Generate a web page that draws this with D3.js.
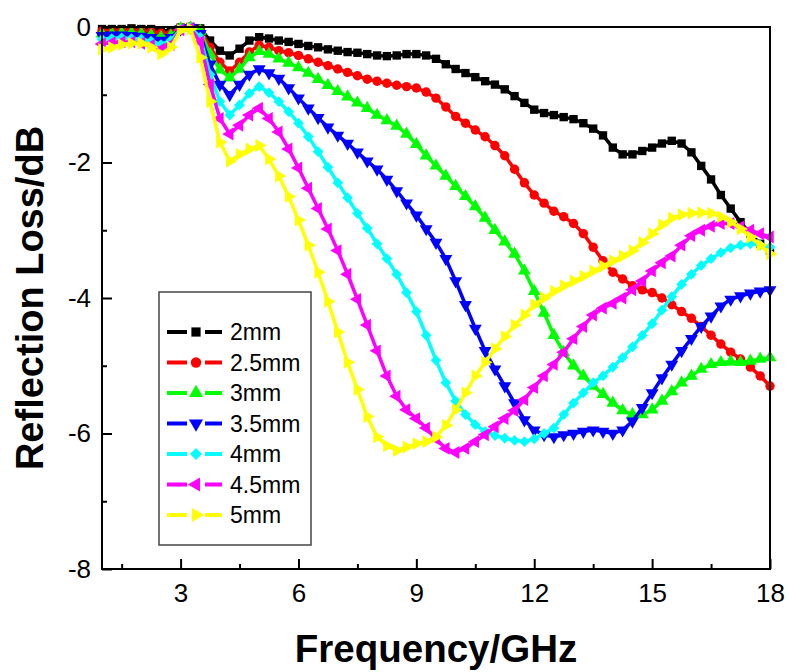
<!DOCTYPE html>
<html>
<head>
<meta charset="utf-8">
<script src="https://cdn.jsdelivr.net/npm/d3@7"></script>
<style>
  body { margin: 0; background: #fff; }
  text { font-family: "Liberation Sans", Arial, sans-serif; }
</style>
</head>
<body>
<div id="chart"></div>
<script>
var freq = [1, 1.25, 1.5, 1.75, 2, 2.25, 2.5, 2.75, 3, 3.25, 3.5, 3.75, 4, 4.25, 4.5, 4.75,
  5, 5.25, 5.5, 5.75, 6, 6.25, 6.5, 6.75, 7, 7.25, 7.5, 7.75, 8, 8.25, 8.5, 8.75,
  9, 9.25, 9.5, 9.75, 10, 10.25, 10.5, 10.75, 11, 11.25, 11.5, 11.75, 12, 12.25, 12.5, 12.75,
  13, 13.25, 13.5, 13.75, 14, 14.25, 14.5, 14.75, 15, 15.25, 15.5, 15.75, 16, 16.25, 16.5, 16.75,
  17, 17.25, 17.5, 17.75, 18]

var rl2 = [-0.03, -0.03, -0.03, -0.02, -0.03, -0.03, -0.05, -0.06, -0.01, 0, -0.02, -0.2, -0.35, -0.42, -0.32, -0.2,
  -0.15, -0.17, -0.2, -0.22, -0.25, -0.28, -0.3, -0.33, -0.35, -0.37, -0.38, -0.4, -0.42, -0.43, -0.42, -0.4,
  -0.4, -0.42, -0.47, -0.55, -0.62, -0.68, -0.74, -0.8, -0.85, -0.92, -1.02, -1.12, -1.22, -1.27, -1.3, -1.33,
  -1.36, -1.42, -1.5, -1.6, -1.78, -1.88, -1.88, -1.83, -1.78, -1.72, -1.68, -1.72, -1.85, -2.05, -2.25, -2.48,
  -2.68, -2.88, -3.05, -3.2, -3.3]

var rl25 = [-0.06, -0.06, -0.05, -0.05, -0.06, -0.07, -0.09, -0.1, -0.01, 0, -0.04, -0.3, -0.52, -0.65, -0.52, -0.37,
  -0.27, -0.3, -0.35, -0.38, -0.42, -0.47, -0.52, -0.57, -0.62, -0.67, -0.72, -0.77, -0.8, -0.83, -0.86, -0.88,
  -0.9, -0.96, -1.05, -1.18, -1.32, -1.42, -1.52, -1.62, -1.75, -1.9, -2.1, -2.3, -2.48, -2.6, -2.72, -2.8,
  -2.9, -3.05, -3.25, -3.45, -3.62, -3.72, -3.82, -3.88, -3.92, -4, -4.1, -4.2, -4.3, -4.42, -4.55, -4.68,
  -4.8, -4.9, -5.02, -5.15, -5.3]

var rl3 = [-0.1, -0.1, -0.09, -0.09, -0.1, -0.12, -0.15, -0.13, -0.02, -0.01, -0.06, -0.4, -0.63, -0.75, -0.62, -0.45,
  -0.36, -0.4, -0.47, -0.53, -0.6, -0.68, -0.77, -0.86, -0.95, -1.03, -1.12, -1.2, -1.3, -1.38, -1.46, -1.58,
  -1.73, -1.9, -2.05, -2.2, -2.35, -2.5, -2.65, -2.82, -3, -3.17, -3.35, -3.6, -3.9, -4.22, -4.55, -4.8,
  -5, -5.15, -5.3, -5.42, -5.55, -5.66, -5.72, -5.72, -5.65, -5.52, -5.38, -5.25, -5.15, -5.05, -4.98, -4.95,
  -4.94, -4.95, -4.93, -4.9, -4.88]

var rl35 = [-0.13, -0.12, -0.12, -0.13, -0.14, -0.16, -0.2, -0.16, -0.03, -0.01, -0.1, -0.55, -0.85, -1, -0.85, -0.7,
  -0.62, -0.68, -0.76, -0.9, -1.05, -1.2, -1.34, -1.48, -1.6, -1.72, -1.85, -1.98, -2.1, -2.25, -2.42, -2.6,
  -2.78, -2.98, -3.18, -3.42, -3.75, -4.1, -4.45, -4.78, -5.05, -5.3, -5.55, -5.8, -5.95, -6.02, -6.05, -6.02,
  -6, -5.97, -5.95, -5.97, -6, -5.95, -5.82, -5.62, -5.4, -5.18, -4.98, -4.78, -4.6, -4.42, -4.27, -4.12,
  -4.02, -3.97, -3.93, -3.9, -3.88]

var rl4 = [-0.18, -0.17, -0.16, -0.17, -0.18, -0.21, -0.26, -0.2, -0.03, -0.01, -0.15, -0.7, -1.1, -1.3, -1.15, -0.98,
  -0.88, -0.97, -1.1, -1.25, -1.42, -1.62, -1.84, -2.07, -2.3, -2.52, -2.75, -2.97, -3.2, -3.42, -3.65, -3.92,
  -4.2, -4.55, -4.92, -5.25, -5.52, -5.72, -5.87, -5.97, -6.03, -6.07, -6.1, -6.12, -6.08, -6, -5.92, -5.72,
  -5.55, -5.4, -5.25, -5.15, -5.02, -4.88, -4.72, -4.55, -4.38, -4.18, -3.98, -3.8, -3.65, -3.52, -3.42, -3.33,
  -3.26, -3.22, -3.2, -3.22, -3.25]

var rl45 = [-0.25, -0.23, -0.22, -0.22, -0.24, -0.27, -0.33, -0.26, -0.04, -0.02, -0.22, -0.85, -1.35, -1.58, -1.45, -1.3,
  -1.2, -1.35, -1.55, -1.8, -2.08, -2.38, -2.68, -2.98, -3.3, -3.65, -4.02, -4.4, -4.78, -5.15, -5.45, -5.65,
  -5.78, -5.92, -6.08, -6.22, -6.28, -6.22, -6.12, -6.02, -5.9, -5.78, -5.66, -5.5, -5.32, -5.15, -4.98, -4.8,
  -4.6, -4.42, -4.25, -4.15, -4.08, -4, -3.88, -3.75, -3.6, -3.48, -3.38, -3.22, -3.08, -3, -2.94, -2.9,
  -2.9, -2.95, -3, -3.05, -3.1]

var rl5 = [-0.33, -0.3, -0.26, -0.24, -0.24, -0.3, -0.4, -0.3, -0.05, -0.03, -0.45, -1.1, -1.7, -1.98, -1.88, -1.8,
  -1.75, -1.95, -2.2, -2.5, -2.85, -3.22, -3.62, -4.05, -4.5, -4.95, -5.35, -5.75, -6.05, -6.18, -6.25, -6.2,
  -6.15, -6.12, -6.05, -5.88, -5.65, -5.4, -5.15, -4.95, -4.75, -4.57, -4.4, -4.25, -4.1, -4, -3.9, -3.82,
  -3.75, -3.68, -3.6, -3.53, -3.45, -3.38, -3.3, -3.18, -3.05, -2.92, -2.82, -2.77, -2.75, -2.74, -2.75, -2.8,
  -2.88, -2.98, -3.1, -3.22, -3.35]

var seriesNames = ['2mm', '2.5mm', '3mm', '3.5mm', '4mm', '4.5mm', '5mm']
var seriesValues = [rl2, rl25, rl3, rl35, rl4, rl45, rl5]
var seriesColors = ['#000000', '#ff0000', '#00ff00', '#0000ff', '#00ffff', '#ff00ff', '#ffff00']

var xMajor = [3, 6, 9, 12, 15, 18]
var xMinor = [1.5, 4.5, 7.5, 10.5, 13.5, 16.5]
var yMajor = [0, -2, -4, -6, -8]
var yMinor = [-1, -3, -5, -7]

;(function () {
  var margin = { top: 27, right: 19, bottom: 103, left: 102 }
  var width = 789 - margin.left - margin.right,
      height = 672 - margin.top - margin.bottom

  var root = d3.select('#chart').append('svg')
    .attr('width', 789)
    .attr('height', 672)

  var svg = root.append('g')
    .attr('transform', 'translate(' + margin.left + ',' + margin.top + ')')

  var xPositionScale = d3.scaleLinear().domain([1, 18]).range([0, width])
  var yPositionScale = d3.scaleLinear().domain([-8, 0]).range([height, 0])

  // symbols: square, circle, up, down, diamond, left, right
  var symbols = [
    { type: d3.symbolSquare, size: 70, rot: 0 },
    { type: d3.symbolCircle, size: 70, rot: 0 },
    { type: d3.symbolTriangle, size: 72, rot: 0 },
    { type: d3.symbolTriangle, size: 72, rot: 180 },
    { type: d3.symbolSquare, size: 58, rot: 45 },
    { type: d3.symbolTriangle, size: 72, rot: -90 },
    { type: d3.symbolTriangle, size: 72, rot: 90 }
  ]

  var line = d3.line()
    .x(function (d) { return xPositionScale(d[0]) })
    .y(function (d) { return yPositionScale(d[1]) })

  seriesValues.forEach(function (vals, i) {
    var pts = freq.map(function (f, j) { return [f, vals[j]] })
    var g = svg.append('g')
    g.append('path')
      .datum(pts)
      .attr('d', line)
      .attr('fill', 'none')
      .attr('stroke', seriesColors[i])
      .attr('stroke-width', 3.5)

    var sym = d3.symbol().type(symbols[i].type).size(symbols[i].size)
    g.selectAll('path.m')
      .data(pts)
      .enter().append('path')
      .attr('class', 'm')
      .attr('d', sym)
      .attr('fill', seriesColors[i])
      .attr('transform', function (d) {
        return 'translate(' + xPositionScale(d[0]) + ',' + yPositionScale(d[1]) + ') rotate(' + symbols[i].rot + ')'
      })
  })

  // axes
  var plain = function (d) { return String(d) }

  var xAxis = d3.axisBottom(xPositionScale)
    .tickValues(xMajor).tickFormat(plain).tickSizeInner(-10).tickSizeOuter(0).tickPadding(15)
  var xg = svg.append('g')
    .attr('transform', 'translate(0,' + height + ')')
    .call(xAxis)
  var xAxisMinor = d3.axisBottom(xPositionScale)
    .tickValues(xMinor).tickSizeInner(-5).tickSizeOuter(0).tickFormat('')
  var xgm = svg.append('g')
    .attr('transform', 'translate(0,' + height + ')')
    .call(xAxisMinor)

  var yAxis = d3.axisLeft(yPositionScale)
    .tickValues(yMajor).tickFormat(plain).tickSizeInner(-10).tickSizeOuter(0).tickPadding(11)
  var yg = svg.append('g').call(yAxis)
  var yAxisMinor = d3.axisLeft(yPositionScale)
    .tickValues(yMinor).tickSizeInner(-5).tickSizeOuter(0).tickFormat('')
  var ygm = svg.append('g').call(yAxisMinor)

  ;[xg, xgm, yg, ygm].forEach(function (g) {
    g.select('.domain').remove()
    g.selectAll('line').attr('stroke', '#000').attr('stroke-width', 2)
    g.selectAll('text')
      .attr('font-size', 26)
      .attr('fill', '#000')
      .style('font-family', '"Liberation Sans", Arial, sans-serif')
  })

  svg.append('rect')
    .attr('width', width)
    .attr('height', height)
    .attr('fill', 'none')
    .attr('stroke', '#000')
    .attr('stroke-width', 2)

  // titles
  root.append('text')
    .attr('x', margin.left + width / 2)
    .attr('y', 662)
    .attr('text-anchor', 'middle')
    .attr('font-size', 38.5)
    .attr('font-weight', 'bold')
    .text('Frequency/GHz')

  root.append('text')
    .attr('transform', 'translate(43,' + (margin.top + height / 2) + ') rotate(-90)')
    .attr('text-anchor', 'middle')
    .attr('font-size', 38)
    .attr('font-weight', 'bold')
    .text('Reflection Loss/dB')

  // legend
  var legend = root.append('g')
  legend.append('rect')
    .attr('x', 159).attr('y', 292)
    .attr('width', 152).attr('height', 253)
    .attr('fill', '#fff')
    .attr('stroke', '#444')
    .attr('stroke-width', 1.5)

  seriesNames.forEach(function (name, i) {
    var y = 332 + i * 30.5
    var item = legend.append('g')
    item.append('line')
      .attr('x1', 167).attr('x2', 187).attr('y1', y).attr('y2', y)
      .attr('stroke', seriesColors[i]).attr('stroke-width', 4)
    item.append('line')
      .attr('x1', 205).attr('x2', 222).attr('y1', y).attr('y2', y)
      .attr('stroke', seriesColors[i]).attr('stroke-width', 4)
    item.append('path')
      .attr('d', d3.symbol().type(symbols[i].type).size(symbols[i].size + 15))
      .attr('fill', seriesColors[i])
      .attr('transform', 'translate(196,' + y + ') rotate(' + symbols[i].rot + ')')
    item.append('text')
      .attr('x', 230).attr('y', y)
      .attr('dy', '0.35em')
      .attr('font-size', 23)
      .text(name)
  })
})()
</script>
</body>
</html>
